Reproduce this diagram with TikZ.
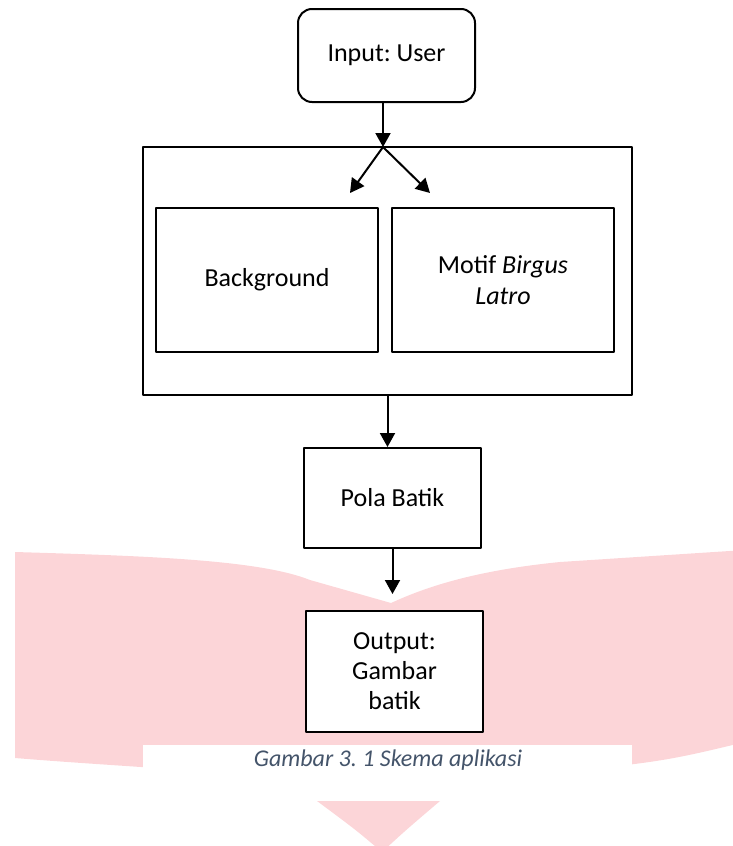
\documentclass[tikz,border=0pt]{standalone}
\usepackage{fontspec}
\setmainfont{Carlito}
\usetikzlibrary{arrows.meta}
\definecolor{wmpink}{RGB}{252,213,216}
\definecolor{capblue}{RGB}{68,84,106}
\frenchspacing
\begin{document}
\begin{tikzpicture}[x=1pt,y=-1pt,line join=round,>={Triangle[width=15pt,length=14pt]},font=\fontsize{26}{31}\selectfont]
	\tikzset{box/.style={draw,line width=2pt,fill=white,align=center,inner sep=0pt},
		link/.style={->,line width=2pt}}
	\useasboundingbox (0,0) rectangle (733,846);
	\begin{scope}
		\clip (0,0) rectangle (733,846);
		\fill[wmpink] (15,552) .. controls (150,556) and (260,560) .. (310,580) .. controls (350,592) .. (391,603)
			.. controls (430,585) and (480,570) .. (560,562) -- (745,550) -- (745,742)
			.. controls (650,765) .. (391,785) .. controls (200,770) and (100,765) .. (15,758) -- cycle;
		\fill[wmpink] (317,801) .. controls (356,830) .. (382,852) .. controls (406,830) .. (440,801) -- cycle;
	\end{scope}
	\fill[white] (143,745) rectangle (632,787);
	\node[box,rounded corners=14pt,minimum width=177pt,minimum height=93pt] (input) at (386.5,55.5) {Input: User};
	\node[box,minimum width=489pt,minimum height=248pt] (frame) at (387.5,271) {};
	\node[box,minimum width=222pt,minimum height=144pt] (bg) at (267,280) {Background};
	\node[box,minimum width=222pt,minimum height=144pt] (motif) at (503,280) {Motif \textit{Birgus}\\\textit{Latro}};
	\node[box,minimum width=177pt,minimum height=100pt] (pola) at (392.5,498) {Pola Batik};
	\node[box,minimum width=177pt,minimum height=121pt,font=\fontsize{26}{30}\selectfont] (output) at (394.5,671.5) {Output:\\Gambar\\batik};
	\node[text=capblue,font=\fontsize{24}{28}\selectfont\itshape] (caption) at (388,760) {Gambar 3. 1 Skema aplikasi};
	\coordinate (split) at (383,147);
	\coordinate (leftend) at (350,193);
	\coordinate (rightend) at (430,193);
	\draw[link] (input.south -| split) -- (split);
	\draw[link] (split) -- (leftend);
	\draw[link] (split) -- (rightend);
	\draw[link] (frame.south) -- (frame.south |- pola.north);
	\draw[link,shorten >=16pt] (pola.south) -- (pola.south |- output.north);
\end{tikzpicture}
\end{document}
